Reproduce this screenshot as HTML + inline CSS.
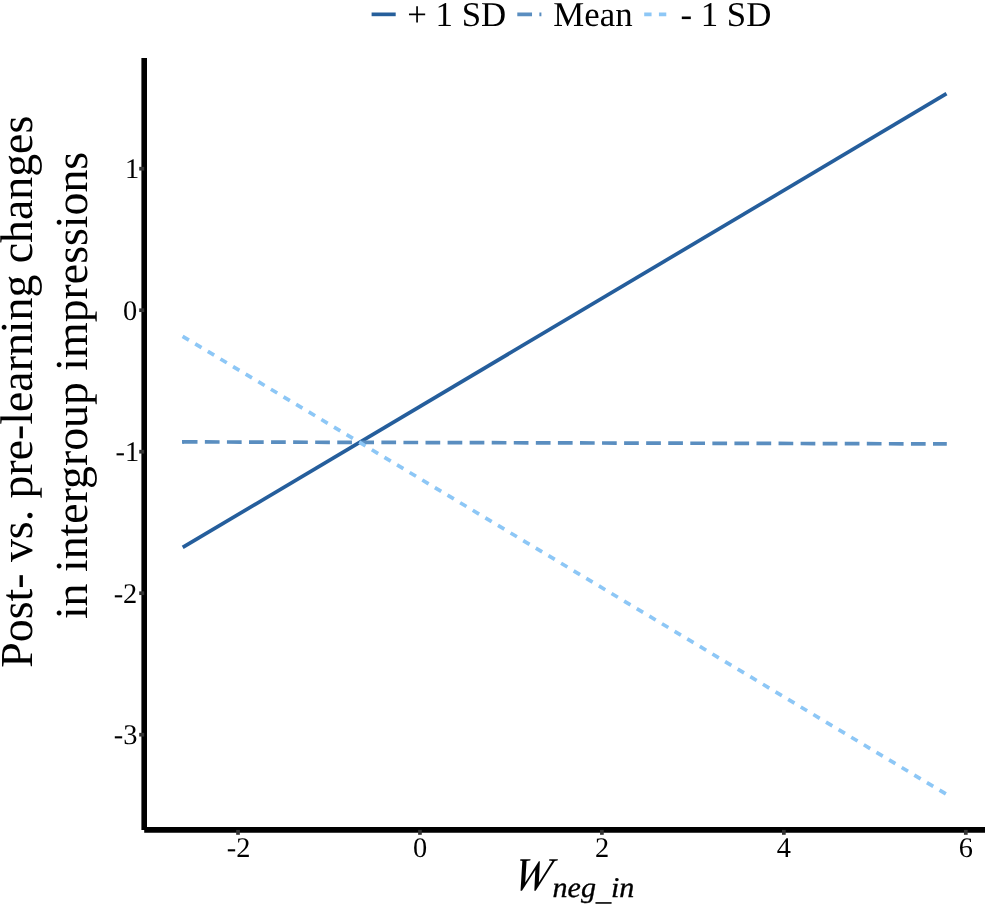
<!DOCTYPE html>
<html>
<head>
<meta charset="utf-8">
<title>Interaction plot</title>
<style>
html,body{margin:0;padding:0;background:#fff;}
body{width:986px;height:904px;overflow:hidden;}
svg{display:block;}
text{font-family:"Liberation Serif","Times New Roman",serif;fill:#000;text-rendering:geometricPrecision;}
.tick{font-size:28.4px;}
.leg{font-size:34.8px;}
.ttl{font-size:45.8px;}
</style>
</head>
<body>
<svg width="986" height="904" viewBox="0 0 986 904">
<rect x="0" y="0" width="986" height="904" fill="#ffffff"/>

<!-- legend -->
<g fill="none" stroke-width="3.7">
<line x1="371.6" y1="14.35" x2="395.7" y2="14.35" stroke="#265F9B"/>
<line x1="517.3" y1="14.35" x2="541.4" y2="14.35" stroke="#5A8EC0" stroke-dasharray="14.73 7.36"/>
<line x1="644.2" y1="14.35" x2="668.3" y2="14.35" stroke="#8DC7F6" stroke-dasharray="7.36 7.36"/>
</g>
<text class="leg" transform="translate(407.3,25.6) scale(1,1)">+ 1 SD</text>
<text class="leg" transform="translate(553.3,25.6) scale(1,1)">Mean</text>
<text class="leg" transform="translate(680.4,25.6) scale(1,1)">- 1 SD</text>

<!-- data lines -->
<g fill="none" stroke-width="3.7">
<line x1="182.7" y1="547.4" x2="946.5" y2="93.7" stroke="#255E9C"/>
<line x1="182" y1="441.9" x2="184" y2="441.9" stroke="#5A8EC0"/>
<line x1="182.8" y1="441.9" x2="946.8" y2="443.9" stroke="#5A8EC0" stroke-dasharray="14.71 7.355"/>
<line x1="182.6" y1="336.3" x2="946.6" y2="794.4" stroke="#8DC7F6" stroke-dasharray="7.355 7.355"/>
</g>

<!-- axes -->
<g stroke="#000" stroke-width="5.6" fill="none">
<line x1="144.2" y1="58" x2="144.2" y2="829.9"/>
<line x1="144.2" y1="829.9" x2="985" y2="829.9"/>
</g>

<!-- ticks -->
<g stroke="#333333" stroke-width="3.7" fill="none">
<line x1="139.2" y1="168.7" x2="144.2" y2="168.7"/>
<line x1="139.2" y1="310.2" x2="144.2" y2="310.2"/>
<line x1="139.2" y1="451.7" x2="144.2" y2="451.7"/>
<line x1="139.2" y1="593.2" x2="144.2" y2="593.2"/>
<line x1="139.2" y1="734.7" x2="144.2" y2="734.7"/>
<line x1="238" y1="829.9" x2="238" y2="834.8"/>
<line x1="419.95" y1="829.9" x2="419.95" y2="834.8"/>
<line x1="601.9" y1="829.9" x2="601.9" y2="834.8"/>
<line x1="783.85" y1="829.9" x2="783.85" y2="834.8"/>
<line x1="965.8" y1="829.9" x2="965.8" y2="834.8"/>
</g>

<!-- y tick labels -->
<g class="tick" text-anchor="end">
<text x="139.2" y="178.2">1</text>
<text x="137.3" y="319.7">0</text>
<text x="139.2" y="461.1">-1</text>
<text x="137.3" y="602.6">-2</text>
<text x="137.5" y="744.1">-3</text>
</g>
<!-- x tick labels -->
<g class="tick" text-anchor="middle">
<text x="238.5" y="856.7">-2</text>
<text x="420" y="856.7">0</text>
<text x="602" y="856.7">2</text>
<text x="783.9" y="856.7">4</text>
<text x="965.8" y="856.7">6</text>
</g>

<!-- y title -->
<text class="ttl" transform="translate(32.4,667.7) rotate(-90)">Post- vs. pre-learning changes</text>
<text class="ttl" transform="translate(87.3,619.1) rotate(-90)">in intergroup impressions</text>

<!-- x title -->
<text transform="translate(511.0,890.3) skewX(-11.5) scale(1,1.05)" font-size="44.8px" font-style="italic">W</text>
<text transform="translate(552.5,896.8) scale(1,0.95)" font-size="30.1px" font-style="italic" stroke="#000" stroke-width="0.35">neg<tspan dy="3.1">_</tspan><tspan dy="-3.1">in</tspan></text>
</svg>
</body>
</html>
